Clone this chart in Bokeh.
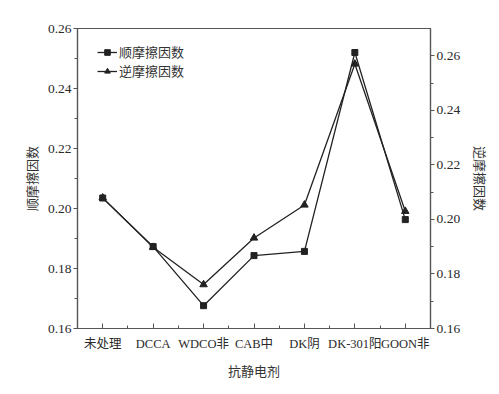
from bokeh.plotting import figure
from bokeh.models import (Range1d, LinearAxis, FixedTicker, Legend, LegendItem)
from bokeh.embed import file_html
from bokeh.resources import INLINE

# Antistatic agents and measured friction coefficients
agents = ["未处理", "DCCA", "WDCO非", "CAB中", "DK阴", "DK-301阳", "GOON非"]
forward_friction = [0.2035, 0.1873, 0.1676, 0.1843, 0.1857, 0.2520, 0.1963]   # 顺摩擦因数 (left axis)
reverse_friction = [0.2079, 0.1898, 0.1761, 0.1932, 0.2053, 0.2570, 0.2030]   # 逆摩擦因数 (right axis)
left_ticks = [0.16, 0.18, 0.20, 0.22, 0.24, 0.26]
right_ticks = [0.16, 0.18, 0.20, 0.22, 0.24, 0.26]

FONT = "'Liberation Serif', 'Noto Sans CJK SC', serif"
INK = "#222222"
AXIS = "#555555"

xs = list(range(1, len(agents) + 1))

p = figure(width=499, height=394, output_backend="svg", toolbar_location=None,
           x_range=Range1d(0.5, len(agents) + 0.5), y_range=Range1d(0.16, 0.26),
           min_border_left=77, min_border_right=69, min_border_top=28, min_border_bottom=66)
p.extra_y_ranges = {"rev": Range1d(0.16, 0.27)}

p.grid.visible = False
p.outline_line_color = AXIS
p.outline_line_width = 1.2
p.background_fill_color = "white"
p.border_fill_color = "white"

# bottom axis: category names at integer positions, ticks pointing inward
xa = p.xaxis[0]
xa.ticker = FixedTicker(ticks=xs, minor_ticks=[x + 0.5 for x in xs[:-1]])
xa.major_label_overrides = {x: a for x, a in zip(xs, agents)}
xa.major_tick_in = 5
xa.major_tick_out = 0
xa.minor_tick_in = 3
xa.minor_tick_out = 0
xa.axis_label = "抗静电剂"

# left axis
ya = p.yaxis[0]
ya.ticker = FixedTicker(ticks=left_ticks, minor_ticks=[t + 0.01 for t in left_ticks[:-1]])
ya.major_tick_in = 0
ya.major_tick_out = 4
ya.minor_tick_in = 0
ya.minor_tick_out = 3
ya.axis_label = "顺摩擦因数"

# right axis for the reverse coefficient
ra = LinearAxis(y_range_name="rev",
                ticker=FixedTicker(ticks=right_ticks, minor_ticks=[t + 0.01 for t in right_ticks[:-1]]),
                axis_label="逆摩擦因数")
ra.major_tick_in = 0
ra.major_tick_out = 4
ra.minor_tick_in = 0
ra.minor_tick_out = 3
p.add_layout(ra, "right")

for ax in (xa, ya, ra):
    ax.axis_line_color = AXIS
    ax.axis_line_width = 1.2
    ax.major_tick_line_color = AXIS
    ax.minor_tick_line_color = AXIS
    ax.major_label_text_font = FONT
    ax.major_label_text_font_size = "13.5px"
    ax.major_label_text_color = "#2a2a2a"
    ax.axis_label_text_font = FONT
    ax.axis_label_text_font_size = "13px"
    ax.axis_label_text_font_style = "normal"
    ax.axis_label_text_color = "#333333"

xa.major_label_text_font_size = "12.5px"
ya.major_label_overrides = {t: f"{t:.2f}" for t in left_ticks}
ra.major_label_overrides = {t: f"{t:.2f}" for t in right_ticks}
xa.major_label_standoff = 8
xa.axis_label_standoff = 10
ya.major_label_standoff = 2
ya.axis_label_standoff = 5
ra.major_label_standoff = 2
ra.axis_label_standoff = 9

# series
l1 = p.line(xs, forward_friction, line_color=INK, line_width=1.3)
s1 = p.scatter(xs, forward_friction, marker="square", size=6, fill_color=INK, line_color=INK)
l2 = p.line(xs, reverse_friction, line_color=INK, line_width=1.3, y_range_name="rev")
s2 = p.scatter(xs, reverse_friction, marker="triangle", size=7.5, fill_color=INK, line_color=INK,
               y_range_name="rev")

legend = Legend(items=[LegendItem(label="顺摩擦因数", renderers=[l1, s1]),
                       LegendItem(label="逆摩擦因数", renderers=[l2, s2])],
                location=(20, 248))
legend.border_line_color = None
legend.background_fill_alpha = 0
legend.margin = 0
legend.padding = 0
legend.spacing = -7
legend.glyph_width = 20
legend.glyph_height = 14
legend.label_height = 14
legend.label_standoff = 2
legend.label_text_font = FONT
legend.label_text_font_size = "13px"
legend.label_text_color = "#333333"
p.add_layout(legend)

open("out.html", "w").write(file_html(p, INLINE))
